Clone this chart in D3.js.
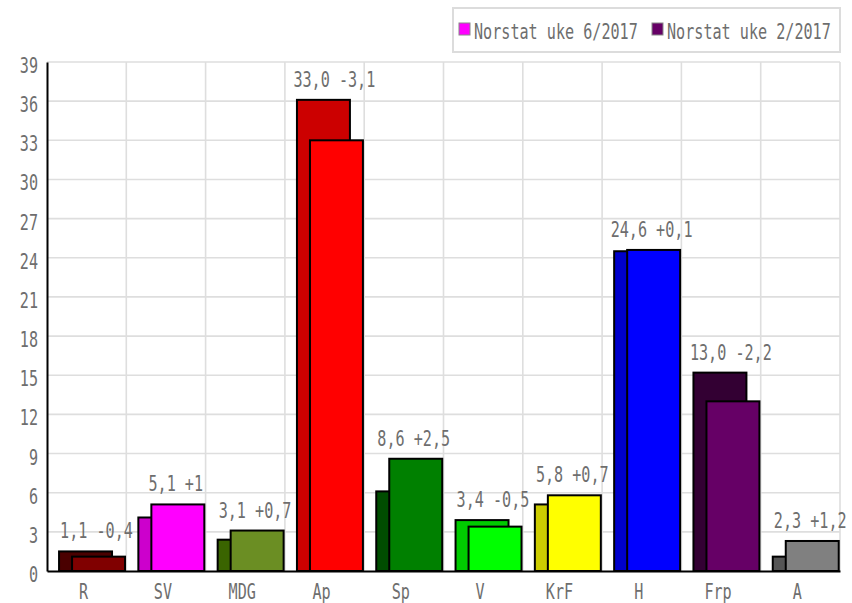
<!DOCTYPE html>
<html>
<head>
<meta charset="utf-8">
<script src="https://cdn.jsdelivr.net/npm/d3@7"></script>
<style>
  html, body { margin: 0; padding: 0; background: #fff; }
  svg { display: block; }
  text { font-family: "DejaVu Sans Mono", monospace; fill: #6e6e6e; }
</style>
</head>
<body>
<svg id="chart" width="852" height="603"></svg>
<script>
// ---- data ----
const categories = ["R", "SV", "MDG", "Ap", "Sp", "V", "KrF", "H", "Frp", "A"];
const current  = [1.1, 5.1, 3.1, 33.0, 8.6, 3.4, 5.8, 24.6, 13.0, 2.3];
const previous = [1.5, 4.1, 2.4, 36.1, 6.1, 3.9, 5.1, 24.5, 15.2, 1.1];
const currentLabels = ["1,1", "5,1", "3,1", "33,0", "8,6", "3,4", "5,8", "24,6", "13,0", "2,3"];
const changeLabels  = ["-0,4", "+1", "+0,7", "-3,1", "+2,5", "-0,5", "+0,7", "+0,1", "-2,2", "+1,2"];
const newColors = ["#800000", "#ff00ff", "#6b8e23", "#ff0000", "#008000", "#00ff00", "#ffff00", "#0000ff", "#660066", "#808080"];
const oldColors = ["#4a0000", "#cc00cc", "#3a6400", "#cc0000", "#004d00", "#00cc00", "#cccc00", "#0000cc", "#330033", "#555555"];
const yTicks = [0, 3, 6, 9, 12, 15, 18, 21, 24, 27, 30, 33, 36, 39];
const legendLabels = ["Norstat uke 6/2017", "Norstat uke 2/2017"];
const legendColors = ["#ff00ff", "#660066"];

// ---- layout ----
const svg = d3.select("#chart");
const mLeft = 47, mRight = 840, mTop = 62, mBottom = 571;
const FS = 21, CW = 9.1;

const x = d3.scaleBand().domain(categories).range([mLeft, mRight]).paddingInner(0).paddingOuter(0);
const y = d3.scaleLinear().domain([0, 39]).range([mBottom, mTop]);
const bw = x.bandwidth();

function fit(sel) {
  sel.each(function () {
    const t = d3.select(this).text();
    d3.select(this).attr("textLength", t.length * CW).attr("lengthAdjust", "spacingAndGlyphs");
  });
}

// grid
const grid = svg.append("g");
grid.selectAll("line.h").data(yTicks.filter(d => d > 0)).join("line")
  .attr("x1", mLeft).attr("x2", mRight)
  .attr("y1", d => y(d)).attr("y2", d => y(d))
  .attr("stroke", "#dedede").attr("stroke-width", 1.6);
grid.selectAll("line.v").data(categories).join("line")
  .attr("x1", d => x(d) + bw).attr("x2", d => x(d) + bw)
  .attr("y1", mTop).attr("y2", mBottom)
  .attr("stroke", "#dedede").attr("stroke-width", 1.6);

// y axis
const yAxis = svg.append("g").attr("transform", `translate(${mLeft},0)`)
  .call(d3.axisLeft(y).tickValues(yTicks).tickSizeInner(0).tickSizeOuter(0).tickPadding(9).tickFormat(d3.format("d")));
yAxis.select(".domain").attr("stroke", "#000").attr("stroke-width", 2);
yAxis.selectAll("text").attr("font-size", FS).attr("font-family", "DejaVu Sans Mono").attr("fill", "#6e6e6e")
  .attr("dy", "0.5em").call(fit);

// bars
const idx = d3.range(categories.length);
const bars = svg.append("g");
bars.selectAll("rect.old").data(idx).join("rect")
  .attr("x", i => x(categories[i]) + bw * 0.152)
  .attr("width", bw * 0.668)
  .attr("y", i => y(previous[i]))
  .attr("height", i => y(0) - y(previous[i]))
  .attr("fill", i => oldColors[i])
  .attr("stroke", "#000").attr("stroke-width", 2);
bars.selectAll("rect.new").data(idx).join("rect")
  .attr("x", i => x(categories[i]) + bw * 0.316)
  .attr("width", bw * 0.668)
  .attr("y", i => y(current[i]))
  .attr("height", i => y(0) - y(current[i]))
  .attr("fill", i => newColors[i])
  .attr("stroke", "#000").attr("stroke-width", 2);

// value labels
svg.append("g").selectAll("text").data(idx).join("text")
  .attr("x", i => x(categories[i]) + bw * 0.624)
  .attr("y", i => y(Math.max(current[i], previous[i])) - 13)
  .attr("text-anchor", "middle")
  .attr("font-size", FS)
  .text(i => currentLabels[i] + " " + changeLabels[i])
  .call(fit);

// x axis
const xAxis = svg.append("g").attr("transform", `translate(0,${mBottom})`)
  .call(d3.axisBottom(x).tickSizeInner(0).tickSizeOuter(0).tickPadding(12));
xAxis.select(".domain").attr("stroke", "#000").attr("stroke-width", 2);
xAxis.selectAll("text").attr("font-size", FS).attr("font-family", "DejaVu Sans Mono").attr("fill", "#6e6e6e")
  .attr("dx", -3).attr("dy", "0.78em").call(fit);

// legend
const lg = svg.append("g");
lg.append("rect").attr("x", 453).attr("y", 8).attr("width", 387).attr("height", 44)
  .attr("fill", "#fff").attr("stroke", "#dcdcdc").attr("stroke-width", 2);
const itemX = [459, 652];
legendLabels.forEach((lab, i) => {
  lg.append("rect").attr("x", itemX[i]).attr("y", 23).attr("width", 11).attr("height", 12)
    .attr("fill", legendColors[i]).attr("stroke", "#888").attr("stroke-width", 1);
  lg.append("text").attr("x", itemX[i] + 15).attr("y", 39).attr("font-size", FS)
    .text(lab).call(fit);
});
</script>
</body>
</html>
